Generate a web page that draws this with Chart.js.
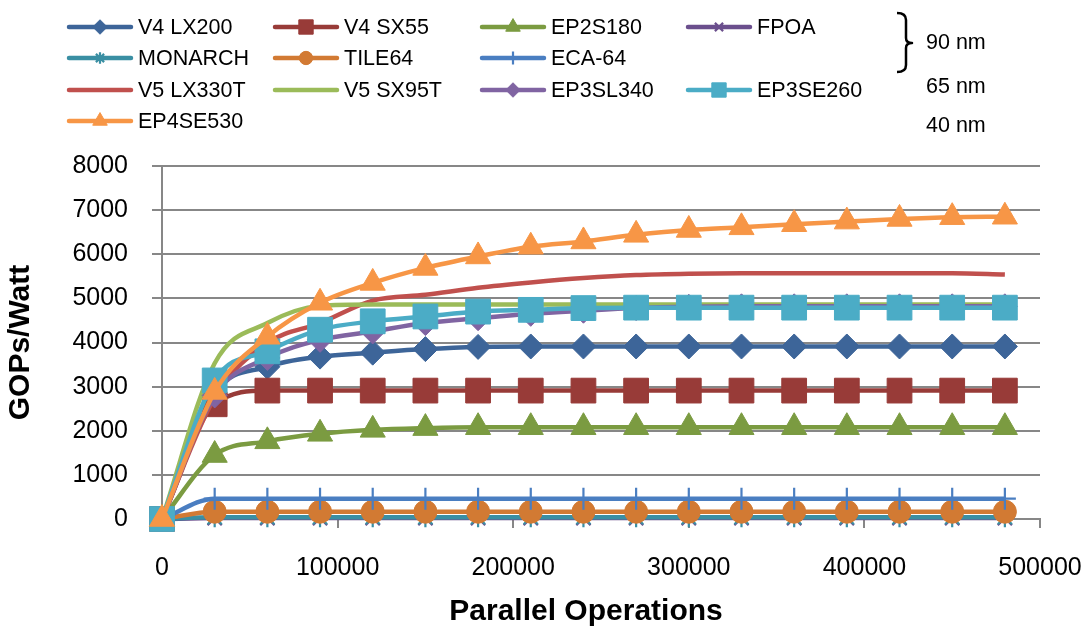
<!DOCTYPE html>
<html><head><meta charset="utf-8">
<script src="https://cdn.jsdelivr.net/npm/chart.js@4.4.0/dist/chart.umd.min.js"></script>
<style>html,body{margin:0;padding:0;background:#fff;} #wrap{width:1091px;height:633px;position:relative;}</style>
</head><body><div id="wrap"><canvas id="c"></canvas></div>
<script>
// ---- data ----
const parallelOps = [0,30000,60000,90000,120000,150000,180000,210000,240000,270000,300000,330000,360000,390000,420000,450000,480000];
const seriesNames = ["V4 LX200","V4 SX55","EP2S180","FPOA","MONARCH","TILE64","ECA-64","V5 LX330T","V5 SX95T","EP3SL340","EP3SE260","EP4SE530"];
const v4lx200  = [0,2850,3450,3680,3770,3850,3900,3910,3910,3910,3910,3910,3910,3910,3910,3910,3910];
const v4sx55   = [0,2600,2910,2910,2910,2910,2910,2910,2910,2910,2910,2910,2910,2910,2910,2910,2910];
const ep2s180  = [0,1450,1760,1930,2020,2060,2080,2080,2080,2080,2080,2080,2080,2080,2080,2080,2080];
const fpoa     = [0,20,20,20,20,20,20,20,20,20,20,20,20,20,20,20,20];
const monarch  = [0,40,40,40,40,40,40,40,40,40,40,40,40,40,40,40,40];
const tile64   = [0,165,165,165,165,165,165,165,165,165,165,165,165,165,165,165,165];
const eca64    = [0,460,460,460,460,460,460,460,460,460,460,460,460,460,460,460,460];
const v5lx330t = [0,2750,3990,4440,4950,5080,5240,5360,5460,5530,5560,5570,5570,5570,5570,5570,5540];
const v5sx95t  = [0,3530,4440,4830,4860,4860,4860,4860,4860,4860,4860,4860,4860,4860,4860,4860,4860];
const ep3sl340 = [0,2800,3650,4060,4250,4440,4550,4650,4720,4780,4810,4820,4820,4820,4820,4820,4820];
const ep3se260 = [0,3140,3800,4290,4480,4590,4700,4740,4780,4790,4790,4790,4790,4790,4790,4790,4790];
const ep4se530 = [0,2880,4130,4900,5350,5690,5950,6170,6290,6440,6550,6610,6680,6740,6800,6840,6850];
const yTicks = [0,1000,2000,3000,4000,5000,6000,7000,8000];
const xTicks = [0,100000,200000,300000,400000,500000];
const nodeLabels = ["90 nm","65 nm","40 nm"];
const xTitle = "Parallel Operations";
const yTitle = "GOPs/Watt";

const seriesValues = [v4lx200,v4sx55,ep2s180,fpoa,monarch,tile64,eca64,v5lx330t,v5sx95t,ep3sl340,ep3se260,ep4se530];
const seriesColors = ["#3D6599","#983B38","#7B9B41","#6B4F8D","#3A8FA3","#D27A33","#4A7EC1","#C0504D","#9BBB59","#8064A2","#4BACC6","#F79646"];
const seriesMarkers = ["rectRot","rect","triangle","crossRot","star","circle","cross",false,false,"rectRot","rect","triangle"];
const markerRadius  = [12.5,17.5,14.5,10,10,11.5,11,0,0,12.5,17.5,14.5];
const legendSlots = [[0,0],[1,0],[2,0],[3,0],[0,1],[1,1],[2,1],[0,2],[1,2],[2,2],[3,2],[0,3]];

const n = seriesNames.length;
const datasets = seriesNames.map((name, i) => {
  const col = seriesColors[i];
  const lineStyle = seriesMarkers[i] === 'cross' || seriesMarkers[i] === 'crossRot' || seriesMarkers[i] === 'star';
  return {
    label: name,
    data: parallelOps.map((x, k) => ({x: x, y: seriesValues[i][k]})),
    borderColor: col,
    backgroundColor: col,
    pointBackgroundColor: col,
    pointBorderColor: col,
    pointStyle: seriesMarkers[i] || 'circle',
    pointRadius: markerRadius[i],
    pointHoverRadius: markerRadius[i],
    pointBorderWidth: lineStyle ? 2.2 : 1,
    borderWidth: 4.5,
    cubicInterpolationMode: 'monotone',
    clip: false,
    fill: false,
    order: n - 1 - i,
    _legendSlot: legendSlots[i]
  };
});

const legendPlugin = {
  id: 'excelLegend',
  afterDraw(chart) {
    const ctx = chart.ctx;
    const colX = [67, 273, 480, 686];
    const rowY = [27, 58, 90, 121];
    ctx.save();
    chart.data.datasets.forEach((ds) => {
      const [c, r] = ds._legendSlot;
      const x0 = colX[c], y = rowY[r];
      ctx.strokeStyle = ds.borderColor;
      ctx.lineWidth = 4.5;
      ctx.lineCap = 'round';
      ctx.beginPath(); ctx.moveTo(x0 + 2, y); ctx.lineTo(x0 + 64, y); ctx.stroke();
      ctx.lineCap = 'butt';
      if (ds.pointRadius > 0) {
        ctx.fillStyle = ds.pointBackgroundColor;
        ctx.strokeStyle = ds.pointBorderColor;
        ctx.lineWidth = ds.pointBorderWidth;
        Chart.helpers.drawPoint(ctx, {pointStyle: ds.pointStyle, radius: ds.pointRadius * 0.58, borderWidth: ds.pointBorderWidth, rotation: 0}, x0 + 33, y);
      }
      ctx.fillStyle = '#000';
      ctx.font = '21.5px "Liberation Sans"';
      ctx.textBaseline = 'middle';
      ctx.textAlign = 'left';
      ctx.fillText(ds.label, x0 + 71, y + 1);
    });
    // bracket
    ctx.strokeStyle = '#000';
    ctx.lineWidth = 2.5;
    ctx.lineJoin = 'round';
    ctx.beginPath();
    ctx.moveTo(897, 13);
    ctx.quadraticCurveTo(906, 13, 906, 20);
    ctx.lineTo(906, 38);
    ctx.quadraticCurveTo(906, 43, 912, 43);
    ctx.quadraticCurveTo(906, 43, 906, 48);
    ctx.lineTo(906, 65);
    ctx.quadraticCurveTo(906, 72, 897, 72);
    ctx.stroke();
    ctx.fillStyle = '#000';
    ctx.font = '21.5px "Liberation Sans"';
    ctx.textBaseline = 'middle';
    const nmY = [43, 87, 126];
    nodeLabels.forEach((t, i) => ctx.fillText(t, 926, nmY[i]));
    // x axis title
    ctx.font = 'bold 30px "Liberation Sans"';
    ctx.textAlign = 'center';
    ctx.fillText(xTitle, 586, 612);
    ctx.restore();
  }
};

const gridCol = '#878787';
new Chart(document.getElementById('c'), {
  type: 'line',
  data: { datasets: datasets },
  plugins: [legendPlugin],
  options: {
    responsive: true,
    maintainAspectRatio: false,
    animation: false,
    events: [],
    layout: { padding: { left: 0, top: 166, right: 51, bottom: 0 } },
    plugins: { legend: { display: false }, tooltip: { enabled: false } },
    scales: {
      x: {
        type: 'linear',
        min: 0, max: 500000,
        afterFit(s) { s.height = 114; s.paddingLeft = 0; s.paddingRight = 0; },
        afterBuildTicks(s) { s.ticks = xTicks.map(v => ({value: v})); },
        grid: { drawOnChartArea: false, drawTicks: true, tickLength: 9, color: gridCol, lineWidth: 2 },
        border: { display: true, color: gridCol, width: 2 },
        ticks: { color: '#000', font: { family: 'Liberation Sans', size: 25 }, padding: 25, maxRotation: 0, autoSkip: false, callback: v => String(v) },
        title: { display: false }
      },
      y: {
        type: 'linear',
        min: 0, max: 8000,
        afterFit(s) { s.width = 162; s.paddingTop = 0; s.paddingBottom = 0; },
        afterBuildTicks(s) { s.ticks = yTicks.map(v => ({value: v})); },
        grid: { drawOnChartArea: true, drawTicks: true, tickLength: 10, color: gridCol, lineWidth: 2 },
        border: { display: true, color: gridCol, width: 2 },
        ticks: { color: '#000', font: { family: 'Liberation Sans', size: 25 }, padding: 24, callback: v => String(v) },
        title: { display: true, text: yTitle, color: '#000', font: { family: 'Liberation Sans', size: 30, weight: 'bold' }, padding: { top: 3, bottom: 0 } }
      }
    }
  }
});
</script>
</body></html>
